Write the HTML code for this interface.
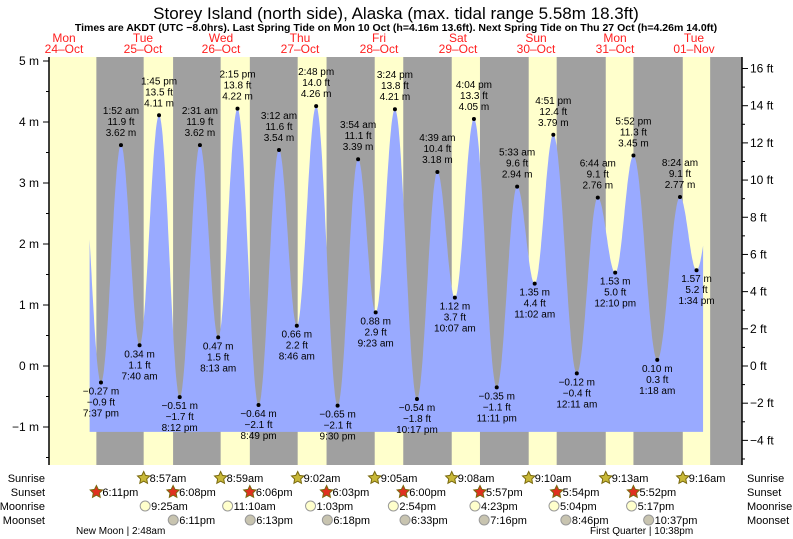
<!DOCTYPE html>
<html><head><meta charset="utf-8"><style>
body{margin:0;background:#fff}
svg{display:block;font-family:"Liberation Sans",sans-serif}
</style></head><body>
<svg id="c" width="793" height="539" viewBox="0 0 793 539">
<text x="396" y="19" font-size="17" text-anchor="middle">Storey Island (north side), Alaska (max. tidal range 5.58m 18.3ft)</text>
<text x="396" y="31" font-size="10.5" font-weight="bold" text-anchor="middle">Times are AKDT (UTC −8.0hrs). Last Spring Tide on Mon 10 Oct (h=4.16m 13.6ft). Next Spring Tide on Thu 27 Oct (h=4.26m 14.0ft)</text>
<g id="bg"></g><g id="tide"></g><g id="axes"></g><g id="lab"></g><g id="bottom"></g>
</svg>
<script>
const tideTimes=["10-24 19:37","10-25 01:52","10-25 07:40","10-25 13:45","10-25 20:12","10-26 02:31","10-26 08:13","10-26 14:15","10-26 20:49","10-27 03:12","10-27 08:46","10-27 14:48","10-27 21:30","10-28 03:54","10-28 09:23","10-28 15:24","10-28 22:17","10-29 04:39","10-29 10:07","10-29 16:04","10-29 23:11","10-30 05:33","10-30 11:02","10-30 16:51","10-31 00:11","10-31 06:44","10-31 12:10","10-31 17:52","11-01 01:18","11-01 08:24","11-01 13:34"];
const tideLabels=["7:37 pm","1:52 am","7:40 am","1:45 pm","8:12 pm","2:31 am","8:13 am","2:15 pm","8:49 pm","3:12 am","8:46 am","2:48 pm","9:30 pm","3:54 am","9:23 am","3:24 pm","10:17 pm","4:39 am","10:07 am","4:04 pm","11:11 pm","5:33 am","11:02 am","4:51 pm","12:11 am","6:44 am","12:10 pm","5:52 pm","1:18 am","8:24 am","1:34 pm"];
const tideHeights=[-0.27,3.62,0.34,4.11,-0.51,3.62,0.47,4.22,-0.64,3.54,0.66,4.26,-0.65,3.39,0.88,4.21,-0.54,3.18,1.12,4.05,-0.35,2.94,1.35,3.79,-0.12,2.76,1.53,3.45,0.10,2.77,1.57];
const tideFeet=["-0.9","11.9","1.1","13.5","-1.7","11.9","1.5","13.8","-2.1","11.6","2.2","14.0","-2.1","11.1","2.9","13.8","-1.8","10.4","3.7","13.3","-1.1","9.6","4.4","12.4","-0.4","9.1","5.0","11.3","0.3","9.1","5.2"];
const sunriseT=["10-25 08:57","10-26 08:59","10-27 09:02","10-28 09:05","10-29 09:08","10-30 09:10","10-31 09:13","11-01 09:16"];
const sunsetT=["10-24 18:11","10-25 18:08","10-26 18:06","10-27 18:03","10-28 18:00","10-29 17:57","10-30 17:54","10-31 17:52","11-01 17:49"];
const moonriseT=["10-25 09:25","10-26 11:10","10-27 13:03","10-28 14:54","10-29 16:23","10-30 17:04","10-31 17:17"];
const moonsetT=["10-25 18:11","10-26 18:13","10-27 18:18","10-28 18:33","10-29 19:16","10-30 20:46","10-31 22:37"];
const dayNames=["Mon","Tue","Wed","Thu","Fri","Sat","Sun","Mon","Tue"];
const dayDates=["24–Oct","25–Oct","26–Oct","27–Oct","28–Oct","29–Oct","30–Oct","31–Oct","01–Nov"];
const mTicks=[5,4,3,2,1,0,-1];
const ftTicks=[16,14,12,10,8,6,4,2,0,-2,-4];

const NS="http://www.w3.org/2000/svg";
const X0=49,X1=742,Y0=57,Y1=465,DAYW=76.87,XORIG=115;
function tDays(s){const [md,hm]=s.split(" ");const [mo,d]=md.split("-").map(Number);const [h,mi]=hm.split(":").map(Number);const day=(mo===11?d+31:d)-25;return day+(h+mi/60)/24;}
function xs(t){return XORIG+t*DAYW;}
function ym(m){return 366-m*61;}
function yft(f){return ym(f*0.3048);}
function el(tag,a,parent,txt){const e=document.createElementNS(NS,tag);for(const k in a)e.setAttribute(k,a[k]);if(txt!==undefined)e.textContent=txt;parent.appendChild(e);return e;}
const bg=document.getElementById('bg'),tide=document.getElementById('tide'),axes=document.getElementById('axes'),lab=document.getElementById('lab'),bot=document.getElementById('bottom');
let r=el('rect',{x:X0,y:Y0,width:X1-X0,height:Y1-Y0,fill:'#ffffcc'},bg);


for(let i=0;i<sunsetT.length;i++){
  const a=xs(tDays(sunsetT[i]));const b=i<sunriseT.length?xs(tDays(sunriseT[i])):X1;
  const n=el('rect',{x:a,y:Y0,width:Math.min(b,X1)-a,height:Y1-Y0,fill:'#a0a0a0'},bg);
  
  
}
const T=tideTimes.map(tDays);
const tS=-0.33,tE=7.65;
function hAt(t){
  if(t<T[0]){const tp=T[0]-(T[1]-T[0]);const hp=tideHeights[1];return hp+(tideHeights[0]-hp)*(1-Math.cos(Math.PI*(t-tp)/(T[0]-tp)))/2;}
  if(t>T[T.length-1]){const n=T.length-1;const tn=T[n]+(T[n]-T[n-1]);const hn=tideHeights[n-1];return tideHeights[n]+(hn-tideHeights[n])*(1-Math.cos(Math.PI*(t-T[n])/(tn-T[n])))/2;}
  for(let i=0;i<T.length-1;i++)if(t>=T[i]&&t<=T[i+1]){return tideHeights[i]+(tideHeights[i+1]-tideHeights[i])*(1-Math.cos(Math.PI*(t-T[i])/(T[i+1]-T[i])))/2;}
}
let d=`M${xs(tS)},${ym(-1.08)}`;
for(let t=tS;t<=tE;t+=0.005)d+=` L${xs(t).toFixed(1)},${ym(hAt(t)).toFixed(1)}`;
d+=` L${xs(tE)},${ym(-1.08)} Z`;
const p=el('path',{d:d,fill:'#99aaff'},tide);


let ax=el('line',{x1:X0,y1:Y0,x2:X0,y2:Y1,stroke:'#000','stroke-width':1.5},axes);

ax=el('line',{x1:X1,y1:Y0,x2:X1,y2:Y1,stroke:'#000','stroke-width':1.5},axes);

mTicks.forEach(m=>{el('line',{x1:X0-6,x2:X0,y1:ym(m),y2:ym(m),stroke:'#000'},axes);
  el('line',{x1:X0-3,x2:X0,y1:ym(m-0.5),y2:ym(m-0.5),stroke:'#000'},axes);
  const t=el('text',{x:X0-10,y:ym(m)+4,'font-size':12,'text-anchor':'end'},axes,(m<0?'−'+(-m):m)+' m');
  });
ftTicks.forEach(f=>{el('line',{x1:X1,x2:X1+6,y1:yft(f),y2:yft(f),stroke:'#000'},axes);
  el('line',{x1:X1,x2:X1+3,y1:yft(f-1),y2:yft(f-1),stroke:'#000'},axes);
  const t=el('text',{x:X1+8,y:yft(f)+4,'font-size':12},axes,(f<0?'−'+(-f):f)+' ft');
  });
const dayX=[64,143,221,300,379,458,536,615,694];
dayNames.forEach((n,i)=>{
  const a=el('text',{x:dayX[i],y:42,'font-size':12,fill:'#ff2020','text-anchor':'middle'},axes,n);
  
  const b=el('text',{x:dayX[i],y:53,'font-size':12,fill:'#ff2020','text-anchor':'middle'},axes,dayDates[i]);
  });
function fmt(v){return (v<0?'−'+(-v).toFixed(2):v.toFixed(2))+' m';}
tideHeights.forEach((h,i)=>{
  const x=xs(T[i]),y=ym(h),hi=i%2===1;
  const c=el('circle',{cx:x,cy:y,r:2,fill:'#000'},lab);
  
  const lines=hi?[tideLabels[i],tideFeet[i].replace('-','−')+' ft',fmt(h)]:[fmt(h),tideFeet[i].replace('-','−')+' ft',tideLabels[i]];
  lines.forEach((s,k)=>{const yy=hi?y-31+k*11:y+12+k*11;
    const t=el('text',{x:x,y:yy,'font-size':10,'text-anchor':'middle'},lab,s);
    });
});
const rows=[["Sunrise",478],["Sunset",492],["Moonrise",506],["Moonset",520]];
rows.forEach(([n,y])=>{
  let t=el('text',{x:45,y:y+4,'font-size':11,'text-anchor':'end'},bot,n);
  
  t=el('text',{x:747,y:y+4,'font-size':11},bot,n);
  });
function star(cx,cy,fill,name,txt){
  let pts=[];for(let k=0;k<10;k++){const rr=k%2?3.2:6.5,a=-Math.PI/2+k*Math.PI/5;pts.push((cx+rr*Math.cos(a)).toFixed(1)+','+(cy+rr*Math.sin(a)).toFixed(1));}
  const s=el('polygon',{points:pts.join(' '),fill:fill,stroke:'#7a6a10','stroke-width':1},bot);
  
  const t=el('text',{x:cx+6,y:cy+4,'font-size':11},bot,txt);
  }
function t12(s){let [h,m]=s.split(" ")[1].split(":").map(Number);const ap=h>=12?'pm':'am';h=h%12||12;return h+':'+String(m).padStart(2,'0')+ap;}
sunriseT.forEach(s=>star(xs(tDays(s)),478,'#c8b838','sunrise-icon',t12(s)));
sunsetT.slice(0,8).forEach(s=>star(xs(tDays(s)),492,'#e03020','sunset-icon',t12(s)));
function moon(s,y,fill,name){const x=xs(tDays(s));
  const c=el('circle',{cx:x,cy:y,r:5,fill:fill,stroke:'#999'},bot);
  
  const t=el('text',{x:x+6,y:y+4,'font-size':11},bot,t12(s));
  }
moonriseT.forEach(s=>moon(s,506,'#ffffcc','moonrise-icon'));
moonsetT.forEach(s=>moon(s,520,'#c8c4b0','moonset-icon'));
let mp=el('text',{x:76,y:534,'font-size':10},bot,'New Moon | 2:48am');

mp=el('text',{x:590,y:534,'font-size':10},bot,'First Quarter | 10:38pm');

</script>
</body></html>
